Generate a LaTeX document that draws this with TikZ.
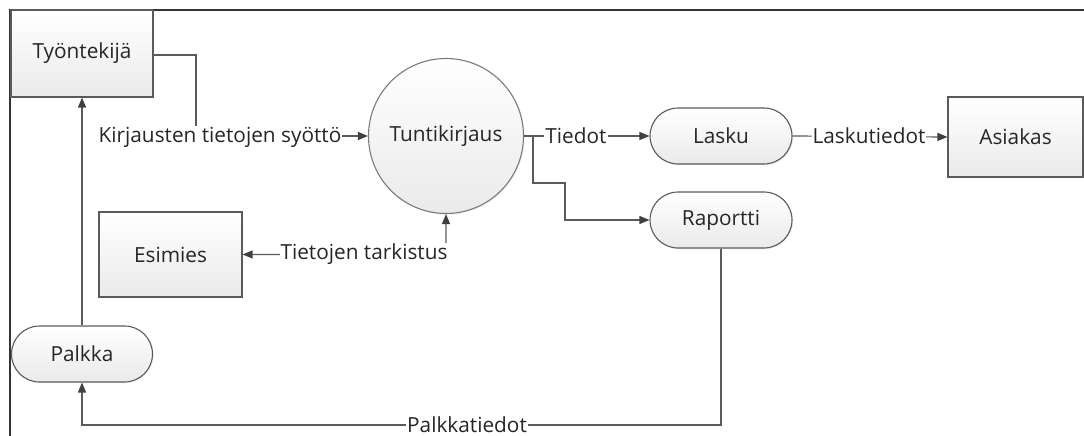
\documentclass[tikz,border=0pt]{standalone}
\usepackage{fontspec}
\setmainfont{Open Sans}
\usetikzlibrary{arrows.meta,shapes.misc,shadows}
\definecolor{edge}{HTML}{5A5A5A}
\definecolor{frame}{HTML}{333333}
\definecolor{fillbot}{HTML}{EAEAEA}
\tikzset{
  base/.style={draw=edge, line width=1.1pt, top color=white, bottom color=fillbot,
    font=\fontsize{20.8}{24}\selectfont, text=black!85, inner sep=0pt,
    drop shadow={opacity=0.12, shadow xshift=1.2pt, shadow yshift=-1.2pt}},
  entity/.style={base, rectangle},
  proc/.style={base, rounded rectangle, minimum width=142pt, minimum height=56pt},
  bubble/.style={base, circle, minimum size=155pt, draw=edge!80},
  flow/.style={draw=edge, line width=1.2pt, -{Triangle[length=10pt,width=8pt,color=black!75]}},
  both/.style={draw=edge, line width=1.2pt, {Triangle[length=10pt,width=8pt,color=black!75]}-{Triangle[length=10pt,width=8pt,color=black!75]}},
  lbl/.style={fill=white, inner sep=1pt, font=\fontsize{20.8}{24}\selectfont, text=black!85}
}
\begin{document}
\begin{tikzpicture}[x=1pt,y=-1pt]
\useasboundingbox (0,0) rectangle (1084,436);
% outer frame
\draw[frame, line width=1.6pt] (10,436) -- (10,10) -- (1084,10);

% entities
\node[entity, minimum width=142pt, minimum height=87pt] (tyo) at (82,53.5) {Työntekijä};
\node[entity, minimum width=143pt, minimum height=85pt] (esimies) at (170.5,254.5) {Esimies};
\node[entity, minimum width=135pt, minimum height=80pt] (asiakas) at (1015.5,137) {Asiakas};

% processes
\node[bubble] (tunti) at (446,136) {Tuntikirjaus};
\node[proc] (lasku) at (721,136) {Lasku};
\node[proc] (rap) at (721,220) {Raportti};
\node[proc, minimum width=141pt] (palkka) at (82,354) {Palkka};

% bend points
\coordinate (k1) at (196,55);
\coordinate (b1) at (533,136);
\coordinate (b2) at (533,183);
\coordinate (b3) at (565,183);
\coordinate (t1) at (446,254);
\coordinate (p1) at (721,425);

% data flows
\draw[flow] (tyo.east |- k1) -- (k1) |- (tunti.west);
\node[lbl] (lk) at (220,137) {Kirjausten tietojen syöttö};

\draw[flow] (tunti.east) -- (lasku.west);
\node[lbl] (lt) at (576,136) {Tiedot};

\draw[flow] (b1) -- (b2) -- (b3) |- (rap.west);

\draw[flow] (lasku.east) -- (asiakas.west);
\node[lbl] (ll) at (869,136) {Laskutiedot};

\draw[both] (esimies.east) -- (t1) -- (tunti.south);
\node[lbl] (ltt) at (364,254) {Tietojen tarkistus};

\draw[flow] (palkka.north) -- (tyo.south);

\draw[flow] (rap.south) -- (p1) -| (palkka.south);
\node[lbl] (lp) at (467,425) {Palkkatiedot};
\end{tikzpicture}
\end{document}
